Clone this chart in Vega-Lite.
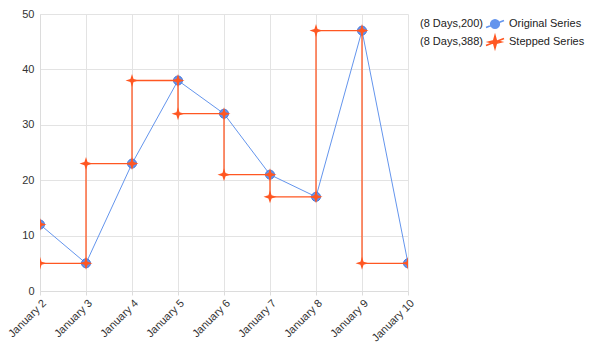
{
  "$schema": "https://vega.github.io/schema/vega-lite/v6.json",
  "width": 368,
  "height": 277,
  "autosize": {"type": "none"},
  "padding": {"left": 40, "top": 14, "right": 183, "bottom": 60},
  "background": "white",
  "config": {
    "font": "Liberation Sans",
    "view": {"stroke": null},
    "axis": {
      "gridColor": "#e3e3e3",
      "domainColor": "#dcdcdc",
      "tickColor": "#dcdcdc",
      "labelColor": "#333333",
      "labelFontSize": 11,
      "labelFont": "Liberation Sans",
      "titleFontSize": 11
    },
    "legend": {
      "labelFont": "Liberation Sans",
      "titleFont": "Liberation Sans",
      "labelFontSize": 11,
      "titleFontSize": 11,
      "labelColor": "#222222",
      "titleColor": "#222222"
    }
  },
  "datasets": {
    "original": [
      {"date": "January 2", "value": 12, "series": "Original Series"},
      {"date": "January 3", "value": 5, "series": "Original Series"},
      {"date": "January 4", "value": 23, "series": "Original Series"},
      {"date": "January 5", "value": 38, "series": "Original Series"},
      {"date": "January 6", "value": 32, "series": "Original Series"},
      {"date": "January 7", "value": 21, "series": "Original Series"},
      {"date": "January 8", "value": 17, "series": "Original Series"},
      {"date": "January 9", "value": 47, "series": "Original Series"},
      {"date": "January 10", "value": 5, "series": "Original Series"}
    ],
    "stepped": [
      {"seq": 0, "date": "January 2", "value": 12, "series": "Stepped Series"},
      {"seq": 1, "date": "January 2", "value": 5, "series": "Stepped Series"},
      {"seq": 2, "date": "January 3", "value": 5, "series": "Stepped Series"},
      {"seq": 3, "date": "January 3", "value": 23, "series": "Stepped Series"},
      {"seq": 4, "date": "January 4", "value": 23, "series": "Stepped Series"},
      {"seq": 5, "date": "January 4", "value": 38, "series": "Stepped Series"},
      {"seq": 6, "date": "January 5", "value": 38, "series": "Stepped Series"},
      {"seq": 7, "date": "January 5", "value": 32, "series": "Stepped Series"},
      {"seq": 8, "date": "January 6", "value": 32, "series": "Stepped Series"},
      {"seq": 9, "date": "January 6", "value": 21, "series": "Stepped Series"},
      {"seq": 10, "date": "January 7", "value": 21, "series": "Stepped Series"},
      {"seq": 11, "date": "January 7", "value": 17, "series": "Stepped Series"},
      {"seq": 12, "date": "January 8", "value": 17, "series": "Stepped Series"},
      {"seq": 13, "date": "January 8", "value": 47, "series": "Stepped Series"},
      {"seq": 14, "date": "January 9", "value": 47, "series": "Stepped Series"},
      {"seq": 15, "date": "January 9", "value": 5, "series": "Stepped Series"},
      {"seq": 16, "date": "January 10", "value": 5, "series": "Stepped Series"}
    ]
  },
  "encoding": {
    "x": {
      "field": "date",
      "type": "ordinal",
      "sort": ["January 2", "January 3", "January 4", "January 5", "January 6", "January 7", "January 8", "January 9", "January 10"],
      "scale": {"type": "point", "padding": 0},
      "axis": {"title": null, "labelAngle": -45, "tickSize": 4, "labelPadding": 2, "grid": true}
    },
    "y": {
      "field": "value",
      "type": "quantitative",
      "scale": {"domain": [0, 50], "nice": false},
      "axis": {"title": null, "values": [0, 10, 20, 30, 40, 50], "ticks": false, "labelPadding": 6, "grid": true}
    },
    "color": {
      "field": "series",
      "type": "nominal",
      "scale": {"domain": ["Original Series", "Stepped Series"], "range": ["#6495ED", "#FF5722"]},
      "legend": {
        "title": ["(8 Days,200)", "(8 Days,388)"],
        "titleOrient": "left",
        "titleFontWeight": "normal",
        "titleLineHeight": 18,
        "titlePadding": 2,
        "orient": "none",
        "legendX": 380,
        "legendY": 0,
        "padding": 0,
        "rowPadding": 0,
        "symbolSize": 324,
        "labelOffset": 4,
        "encode": {
          "symbols": {
            "update": {
              "shape": {"signal": "datum.value === 'Original Series' ? 'M-1,0.4L1,-0.4M0.48,0A0.48,0.48,0,1,1,-0.48,0A0.48,0.48,0,1,1,0.48,0Z' : 'M-1,0.4L1,-0.4M0,-0.7L0.15,-0.15L0.7,0L0.15,0.15L0,0.7L-0.15,0.15L-0.7,0L-0.15,-0.15Z'"},
              "fill": {"signal": "scale('color', datum.value)"},
              "stroke": {"signal": "scale('color', datum.value)"},
              "strokeWidth": {"value": 1.6},
              "opacity": {"value": 1},
              "fillOpacity": {"value": 1},
              "strokeOpacity": {"value": 1}
            }
          }
        }
      }
    }
  },
  "layer": [
    {
      "data": {"name": "original"},
      "mark": {"type": "line", "strokeWidth": 1, "clip": true},
      "encoding": {}
    },
    {
      "data": {"name": "original"},
      "mark": {"type": "point", "shape": "circle", "filled": true, "size": 81, "opacity": 1, "stroke": "#4a78d8", "strokeWidth": 1, "clip": true},
      "encoding": {}
    },
    {
      "data": {"name": "stepped"},
      "transform": [{"filter": "datum.seq > 0"}],
      "mark": {"type": "line", "strokeWidth": 1.3, "clip": true},
      "encoding": {"order": {"field": "seq", "type": "quantitative"}}
    },
    {
      "data": {"name": "stepped"},
      "mark": {"type": "point", "shape": "M0,-1L0.24,-0.24L1,0L0.24,0.24L0,1L-0.24,0.24L-1,0L-0.24,-0.24Z", "filled": true, "size": 169, "opacity": 1, "clip": true},
      "encoding": {}
    }
  ]
}
